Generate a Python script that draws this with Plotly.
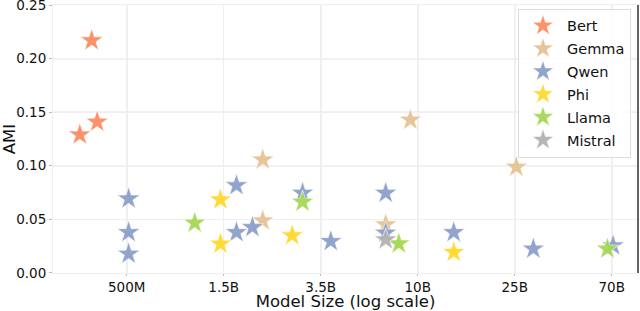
import plotly.graph_objects as go

# ---- data (model size in billions, AMI) ----
families = ["Bert", "Gemma", "Qwen", "Phi", "Llama", "Mistral"]
colors = ["#fc8d62", "#e5c494", "#8da0cb", "#ffd92f", "#a6d854", "#b3b3b3"]

bert_size = [0.31, 0.35, 0.37]
bert_ami = [0.129, 0.217, 0.141]

gemma_size = [2.0, 2.0, 7.0, 9.0, 26.5]
gemma_ami = [0.1056, 0.0487, 0.045, 0.1428, 0.0988]

qwen_size = [0.51, 0.51, 0.51, 1.53, 1.53, 1.8, 3.0, 4.0, 7.0, 7.0, 14.0, 31.5, 71.0]
qwen_ami = [0.0692, 0.0378, 0.0177, 0.0816, 0.0378, 0.0425, 0.0745, 0.0294, 0.0745, 0.0373, 0.0378, 0.0224, 0.0254]

phi_size = [1.3, 1.3, 2.7, 14.0]
phi_ami = [0.0683, 0.027, 0.0348, 0.0192]

llama_size = [1.0, 3.0, 8.0, 67.0]
llama_ami = [0.0466, 0.0662, 0.0272, 0.0224]

mistral_size = [7.0]
mistral_ami = [0.031]

tick_vals = [0.5, 1.343, 3.609, 9.697, 26.05, 70.0]
tick_text = ["500M", "1.5B", "3.5B", "10B", "25B", "70B"]
y_tick_vals = [0.0, 0.05, 0.10, 0.15, 0.20, 0.25]
y_tick_text = ["0.00", "0.05", "0.10", "0.15", "0.20", "0.25"]
dark_x_ticks = [0.5, 3.609, 9.697, 26.05, 70.0]
dark_y_ticks = [0.10, 0.15, 0.20]

series = [
    (bert_size, bert_ami),
    (gemma_size, gemma_ami),
    (qwen_size, qwen_ami),
    (phi_size, phi_ami),
    (llama_size, llama_ami),
    (mistral_size, mistral_ami),
]

FONT = "DejaVu Sans"
fig = go.Figure()
for name, color, (xs, ys) in zip(families, colors, series):
    fig.add_trace(go.Scatter(
        x=xs, y=ys, mode="markers", name=name, legendgroup=name,
        marker=dict(symbol="star", size=17, color=color, opacity=0.95,
                    line=dict(width=0.6, color="white")),
    ))

shapes = []
for xv in dark_x_ticks:
    shapes.append(dict(type="line", xref="x", yref="paper", x0=xv, x1=xv, y0=0, y1=1,
                       line=dict(color="#cccccc", width=1.2), layer="below"))
for yv in dark_y_ticks:
    shapes.append(dict(type="line", xref="paper", yref="y", x0=0, x1=1, y0=yv, y1=yv,
                       line=dict(color="#cccccc", width=1.2), layer="below"))
shapes.append(dict(type="line", xref="paper", yref="paper", x0=1, x1=1, y0=0, y1=1,
                   line=dict(color="#333333", width=1.5)))

fig.update_layout(
    width=640, height=311,
    margin=dict(l=53, r=2, t=5, b=38, autoexpand=False),
    paper_bgcolor="white", plot_bgcolor="white",
    font=dict(family=FONT, size=13.5, color="#111111"),
    shapes=shapes,
    showlegend=True,
    legend=dict(x=0.988, y=0.986, xanchor="right", yanchor="top",
                bgcolor="rgba(255,255,255,0.85)", bordercolor="#dddddd", borderwidth=1,
                font=dict(family=FONT, size=14.5), itemwidth=38, tracegroupgap=1),
    xaxis=dict(type="log", range=[-0.62715, 1.9615], tickvals=tick_vals, ticktext=tick_text,
               showgrid=True, gridcolor="#efefef", gridwidth=1,
               zeroline=False, showline=True, linecolor="#efefef", mirror=True,
               ticks="outside", ticklen=2, tickcolor="#bbbbbb",
               title=dict(text="Model Size (log scale)", font=dict(size=16.5), standoff=8)),
    yaxis=dict(range=[-0.0002, 0.2502], tickvals=y_tick_vals, ticktext=y_tick_text,
               ticklabeloverflow="allow",
               showgrid=True, gridcolor="#efefef", gridwidth=1,
               zeroline=False, showline=True, linecolor="#efefef", mirror=True,
               ticks="outside", ticklen=3, tickcolor="#bbbbbb",
               title=dict(text="AMI", font=dict(size=16.5), standoff=3)),
)

fig.write_html("out.html", config={"displayModeBar": False},
               post_script="document.body.style.margin='0';document.body.style.overflow='hidden';")
